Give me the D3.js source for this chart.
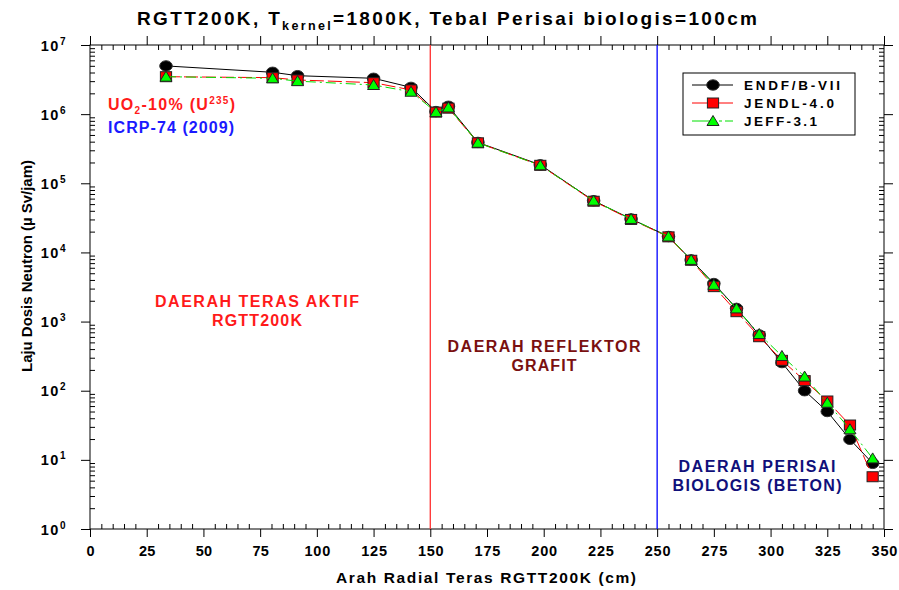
<!DOCTYPE html>
<html>
<head>
<meta charset="utf-8">
<script src="https://cdn.jsdelivr.net/npm/d3@7"></script>
<style>
  body { margin: 0; background: #fff; }
  svg text { font-family: "Liberation Sans", Arial, sans-serif; font-weight: bold; }
</style>
</head>
<body>
<svg id="chart" width="899" height="590"></svg>
<script>
// radial position (cm) and neutron dose rate for each library
const radius = [33.5, 80.5, 91.5, 125, 141.5, 152.5, 158, 171, 198.5, 222, 238.5, 255, 265, 275, 285, 295, 305, 315, 325, 335, 345];
const endf  = [4.98e6, 4.03e6, 3.6e6, 3.3e6, 2.44e6, 1.09e6, 1.3e6, 3.9e5, 1.85e5, 5.6e4, 3.05e4, 1.7e4, 7.8e3, 3.55e3, 1.55e3, 640, 255, 100, 50, 19.8, 8.9];
const jendl = [3.48e6, 3.37e6, 3.12e6, 2.85e6, 2.24e6, 1.07e6, 1.22e6, 3.85e5, 1.82e5, 5.5e4, 3.0e4, 1.68e4, 7.7e3, 3.2e3, 1.39e3, 604, 275, 140, 71, 31.9, 5.7];
const jeff  = [3.48e6, 3.3e6, 3.0e6, 2.64e6, 2.11e6, 1.07e6, 1.25e6, 3.85e5, 1.82e5, 5.6e4, 3.05e4, 1.7e4, 7.8e3, 3.4e3, 1.55e3, 661, 318, 160, 67, 27.7, 10.5];
const seriesNames = ['ENDF/B-VII', 'JENDL-4.0', 'JEFF-3.1'];
const xTicks = [0, 25, 50, 75, 100, 125, 150, 175, 200, 225, 250, 275, 300, 325, 350];
const yExponents = [0, 1, 2, 3, 4, 5, 6, 7];
const regionBounds = [150, 250];

const svg = d3.select('#chart');
const pLeft = 90, pRight = 884, pTop = 45, pBottom = 529;
const x = d3.scaleLinear().domain([0, 350]).range([pLeft, pRight]);
const y = d3.scaleLog().domain([1, 1e7]).range([pBottom, pTop]);

// stretch a text to a given width by spacing out its letters
function fit(sel, w) {
  return sel.attr('textLength', w).attr('lengthAdjust', 'spacing');
}

// title
const title = svg.append('text').attr('x', 447).attr('y', 25).attr('text-anchor', 'middle')
  .style('font-size', '19px');
title.append('tspan').text('RGTT200K, T');
title.append('tspan').attr('dy', 5).style('font-size', '12.5px').text('kernel');
title.append('tspan').attr('dy', -5).text('=1800K, Tebal Perisai biologis=100cm');
fit(title, 620);

// minor ticks
const xMinor = d3.range(0, 351, 5).filter(v => v % 25 !== 0);
const yMinor = [];
yExponents.slice(0, -1).forEach(e => { for (let k = 2; k < 10; k++) yMinor.push(k * Math.pow(10, e)); });

const axes = svg.append('g');
axes.append('g').attr('transform', `translate(0,${pBottom})`)
  .call(d3.axisBottom(x).tickValues(xMinor).tickSizeInner(-5).tickSizeOuter(0).tickFormat(''));
axes.append('g').attr('transform', `translate(0,${pTop})`)
  .call(d3.axisTop(x).tickValues(xMinor).tickSizeInner(-5).tickSizeOuter(0).tickFormat(''));
axes.append('g').attr('transform', `translate(0,${pTop})`)
  .call(d3.axisTop(x).tickValues(xTicks).tickSizeInner(9).tickSizeOuter(0).tickFormat(''));
axes.append('g').attr('transform', `translate(${pLeft},0)`)
  .call(d3.axisLeft(y).tickValues(yMinor).tickSizeInner(-5).tickSizeOuter(0).tickFormat(''));
axes.append('g').attr('transform', `translate(${pRight},0)`)
  .call(d3.axisRight(y).tickValues(yMinor).tickSizeInner(-5).tickSizeOuter(0).tickFormat(''));
axes.append('g').attr('transform', `translate(${pRight},0)`)
  .call(d3.axisRight(y).tickValues(yExponents.map(e => Math.pow(10, e))).tickSizeInner(9).tickSizeOuter(0).tickFormat(''));

const xAxis = axes.append('g').attr('transform', `translate(0,${pBottom})`)
  .call(d3.axisBottom(x).tickValues(xTicks).tickSizeInner(8).tickSizeOuter(0).tickPadding(9));
xAxis.selectAll('text').style('font-size', '14.5px').attr('fill', '#000')
  .each(function(d) { fit(d3.select(this), String(d).length * 9.6 - 3); });

const yAxis = axes.append('g').attr('transform', `translate(${pLeft},0)`)
  .call(d3.axisLeft(y).tickValues(yExponents.map(e => Math.pow(10, e))).tickSizeInner(9).tickSizeOuter(0)
    .tickFormat(''));
yAxis.selectAll('.tick text').remove();
yAxis.selectAll('.tick').append('text')
  .attr('x', -23).attr('dy', 5).attr('text-anchor', 'end').attr('fill', '#000')
  .style('font-size', '14.5px').style('letter-spacing', '1.5px')
  .each(function(d) {
    const t = d3.select(this);
    t.append('tspan').text('10');
    t.append('tspan').attr('dy', -6).style('font-size', '10px').text(Math.round(Math.log10(d)));
  });

axes.selectAll('path.domain').remove();
axes.selectAll('line').attr('stroke', '#000');

svg.append('rect').attr('x', pLeft).attr('y', pTop).attr('width', pRight - pLeft).attr('height', pBottom - pTop)
  .attr('fill', 'none').attr('stroke', '#000').attr('stroke-width', 1);

// axis titles
fit(svg.append('text').attr('x', 486).attr('y', 583).attr('text-anchor', 'middle')
  .style('font-size', '15.5px').text('Arah Radial Teras RGTT200K (cm)'), 300);
fit(svg.append('text').attr('transform', 'translate(32,266) rotate(-90)').attr('text-anchor', 'middle')
  .style('font-size', '15px').text('Laju Dosis Neutron (\u00b5 Sv/jam)'), 212);

// region boundaries
svg.selectAll('line.bound').data(regionBounds).enter().append('line')
  .attr('x1', d => x(d)).attr('x2', d => x(d)).attr('y1', pTop).attr('y2', pBottom)
  .attr('stroke', (d, i) => i === 0 ? '#ff3030' : '#0000ff').attr('stroke-width', 1.3);

// region annotations
function label(lines, widths, cx, y0, color) {
  lines.forEach((s, i) => {
    fit(svg.append('text').attr('x', cx).attr('y', y0 + i * 19).attr('text-anchor', 'middle')
      .attr('fill', color).style('font-size', '16px').text(s), widths[i]);
  });
}
label(['DAERAH TERAS AKTIF', 'RGTT200K'], [204, 90], 257, 307, '#ff1a1a');
label(['DAERAH REFLEKTOR', 'GRAFIT'], [193, 65], 544, 352, '#7a1010');
label(['DAERAH PERISAI', 'BIOLOGIS (BETON)'], [157, 169], 757, 472, '#10107a');

const uo = svg.append('text').attr('x', 108).attr('y', 110).attr('fill', '#ff1a1a')
  .style('font-size', '16px');
uo.append('tspan').text('UO');
uo.append('tspan').attr('dy', 4).style('font-size', '10px').text('2');
uo.append('tspan').attr('dy', -4).text('-10% (U');
uo.append('tspan').attr('dy', -6).style('font-size', '10px').text('235');
uo.append('tspan').attr('dy', 6).text(')');
fit(uo, 127);
fit(svg.append('text').attr('x', 108).attr('y', 133).attr('fill', '#1a1aff')
  .style('font-size', '16px').text('ICRP-74 (2009)'), 126);

// series
const series = [
  { name: seriesNames[0], values: endf, color: '#000', dash: null, fill: '#000', shape: 'circle', w: 96 },
  { name: seriesNames[1], values: jendl, color: '#ff0000', dash: '14,4', fill: '#ff0000', shape: 'square', w: 90 },
  { name: seriesNames[2], values: jeff, color: '#00e000', dash: '10,4,2,4', fill: '#00ff00', shape: 'triangle', w: 73 }
];

const line = d3.line().x(d => x(d[0])).y(d => y(d[1]));

function drawMarker(g, shape, fill) {
  if (shape === 'circle') {
    g.append('ellipse').attr('rx', 6.3).attr('ry', 5.2).attr('fill', fill).attr('stroke', '#333');
  } else if (shape === 'square') {
    g.append('rect').attr('x', -5.6).attr('y', -5).attr('width', 11.2).attr('height', 10)
      .attr('fill', fill).attr('stroke', '#222');
  } else {
    g.append('path').attr('d', 'M0,-5.5L6,4.5L-6,4.5Z').attr('fill', fill).attr('stroke', '#222');
  }
}

series.forEach(s => {
  const pts = radius.map((r, i) => [r, s.values[i]]);
  svg.append('path').datum(pts).attr('d', line).attr('fill', 'none')
    .attr('stroke', s.color).attr('stroke-width', 1).attr('stroke-dasharray', s.dash);
  pts.forEach(p => {
    const g = svg.append('g').attr('transform', `translate(${x(p[0])},${y(p[1])})`);
    drawMarker(g, s.shape, s.fill);
  });
});

// legend
const legend = svg.append('g');
legend.append('rect').attr('x', 683).attr('y', 73).attr('width', 172).attr('height', 62)
  .attr('fill', '#fff').attr('stroke', '#000');
series.forEach((s, i) => {
  const ly = 85 + i * 18;
  legend.append('line').attr('x1', 692).attr('x2', 733).attr('y1', ly).attr('y2', ly)
    .attr('stroke', s.color).attr('stroke-dasharray', i === 2 ? '24,3,3,3' : null);
  const g = legend.append('g').attr('transform', `translate(713,${ly})`);
  drawMarker(g, s.shape, s.fill);
  fit(legend.append('text').attr('x', 744).attr('y', ly + 5)
    .style('font-size', '13.5px').text(s.name), s.w);
});
</script>
</body>
</html>
